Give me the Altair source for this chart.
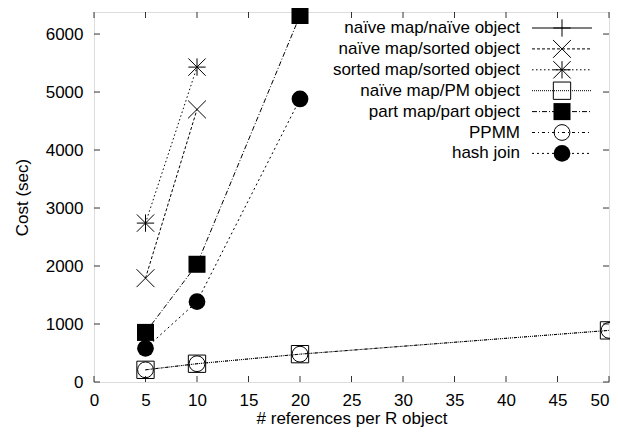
import altair as alt
import pandas as pd

# ---- data ----
series = [
    "naïve map/naïve object",
    "naïve map/sorted object",
    "sorted map/sorted object",
    "naïve map/PM object",
    "part map/part object",
    "PPMM",
    "hash join",
]
x_naive_naive = []
y_naive_naive = []
x_naive_sorted = [5, 10]
y_naive_sorted = [1790, 4700]
x_sorted_sorted = [5, 10]
y_sorted_sorted = [2740, 5430]
x_naive_pm = [5, 10, 20, 50]
y_naive_pm = [210, 315, 480, 890]
x_part = [5, 10, 20]
y_part = [855, 2030, 6320]
x_ppmm = [5, 10, 20, 50]
y_ppmm = [210, 315, 480, 890]
x_hash = [5, 10, 20]
y_hash = [580, 1385, 4880]

x_ticks = [0, 5, 10, 15, 20, 25, 30, 35, 40, 45, 50]
y_ticks = [0, 1000, 2000, 3000, 4000, 5000, 6000]

xs = [x_naive_naive, x_naive_sorted, x_sorted_sorted, x_naive_pm, x_part, x_ppmm, x_hash]
ys = [y_naive_naive, y_naive_sorted, y_sorted_sorted, y_naive_pm, y_part, y_ppmm, y_hash]

# ---- styles ----
PLUS = "M-1,0L1,0M0,-1L0,1"
CROSS = "M-1,-1L1,1M-1,1L1,-1"
STAR = "M-1,0L1,0M0,-1L0,1M-1,-1L1,1M-1,1L1,-1"
shapes = [PLUS, CROSS, STAR, "square", "square", "circle", "circle"]
filled = [False, False, False, False, True, False, True]
sizes = [300, 320, 300, 300, 290, 250, 280]
dashes = [[1, 0], [3, 2], [1.5, 2.5], [1, 1], [5, 2, 1, 2], [3, 3, 1, 3], [2, 3]]

W, H = 515, 370
FONT = "Liberation Sans"
FS = 17
x_scale = alt.Scale(domain=[0, 50], nice=False, zero=False)
y_scale = alt.Scale(domain=[0, 6380], nice=False)

layers = []

# axes (labels only)
base_axes = alt.Chart(pd.DataFrame({"x": [0], "y": [0]})).mark_point(opacity=0).encode(
    x=alt.X("x:Q", scale=x_scale,
            axis=alt.Axis(values=x_ticks, title="# references per R object", ticks=False, tickSize=0,
                          domain=False, grid=False, labelPadding=10, labelFont=FONT, labelFontSize=FS,
                          labelColor="black", titleFont=FONT, titleFontSize=FS, titleFontWeight="normal",
                          titleColor="black", titleY=41, titleBaseline="alphabetic", labelFlush=False,
                          labelAlign={"condition": {"test": "datum.value == 50", "value": "right"},
                                      "value": "center"},
                          format="d")),
    y=alt.Y("y:Q", scale=y_scale,
            axis=alt.Axis(values=y_ticks, title="Cost (sec)", ticks=False, tickSize=0,
                          domain=False, grid=False, labelPadding=11, labelFont=FONT, labelFontSize=FS,
                          labelColor="black", titleFont=FONT, titleFontSize=FS, titleFontWeight="normal",
                          titleColor="black", titleX=-72, titleY=H / 2, titleBaseline="middle",
                          titleAlign="center", labelFlush=False, format="d")),
)
layers.append(base_axes)

# inward ticks on all four sides (mirror)
TL = 6
xt = pd.DataFrame({"x": x_ticks})
yt = pd.DataFrame({"y": y_ticks})
tick_color = "#333333"
layers.append(alt.Chart(xt).mark_rule(color=tick_color, strokeWidth=1).encode(
    x=alt.X("x:Q", scale=x_scale), y=alt.value(H), y2=alt.value(H - TL)))
layers.append(alt.Chart(xt).mark_rule(color=tick_color, strokeWidth=1).encode(
    x=alt.X("x:Q", scale=x_scale), y=alt.value(0), y2=alt.value(TL)))
layers.append(alt.Chart(yt).mark_rule(color=tick_color, strokeWidth=1).encode(
    y=alt.Y("y:Q", scale=y_scale), x=alt.value(0), x2=alt.value(TL)))
layers.append(alt.Chart(yt).mark_rule(color=tick_color, strokeWidth=1).encode(
    y=alt.Y("y:Q", scale=y_scale), x=alt.value(W), x2=alt.value(W - TL)))

# series
for i, name in enumerate(series):
    if len(xs[i]) == 0:
        continue
    df = pd.DataFrame({"x": xs[i], "y": ys[i]})
    layers.append(alt.Chart(df).mark_line(color="black", strokeWidth=1, strokeDash=dashes[i]).encode(
        x=alt.X("x:Q", scale=x_scale), y=alt.Y("y:Q", scale=y_scale)))
    layers.append(alt.Chart(df).mark_point(
        shape=shapes[i], filled=filled[i], size=sizes[i], color="black",
        strokeWidth=1, opacity=1,
        **({"fill": "black"} if filled[i] else {})).encode(
        x=alt.X("x:Q", scale=x_scale), y=alt.Y("y:Q", scale=y_scale)))

# legend (gnuplot style: label right-aligned, sample line + symbol on the right)
LEG_TOP = 16
LEG_STEP = 20.9
LEG_TEXT_X = 426
LEG_LINE_X1, LEG_LINE_X2 = 438, 498
LEG_SYM_X = 468
for i, name in enumerate(series):
    ly = LEG_TOP + i * LEG_STEP
    ldf = pd.DataFrame({"label": [name]})
    layers.append(alt.Chart(ldf).mark_text(align="right", baseline="middle", font=FONT,
                                           fontSize=FS, color="black").encode(
        text="label:N", x=alt.value(LEG_TEXT_X), y=alt.value(ly)))
    layers.append(alt.Chart(ldf).mark_rule(color="black", strokeWidth=1, strokeDash=dashes[i]).encode(
        x=alt.value(LEG_LINE_X1), x2=alt.value(LEG_LINE_X2), y=alt.value(ly)))
    layers.append(alt.Chart(ldf).mark_point(
        shape=shapes[i], filled=filled[i], size=sizes[i], color="black",
        strokeWidth=1, opacity=1,
        **({"fill": "black"} if filled[i] else {})).encode(
        x=alt.value(LEG_SYM_X), y=alt.value(ly)))

chart = alt.layer(*layers).properties(
    width=W, height=H,
    autosize=alt.AutoSizeParams(type="none"),
    padding={"left": 86, "top": 4, "right": 1, "bottom": 45},
).configure_view(stroke="#333333", strokeWidth=1).configure(background="white")

chart.save("out.html", embed_options={"renderer": "svg", "actions": False})
